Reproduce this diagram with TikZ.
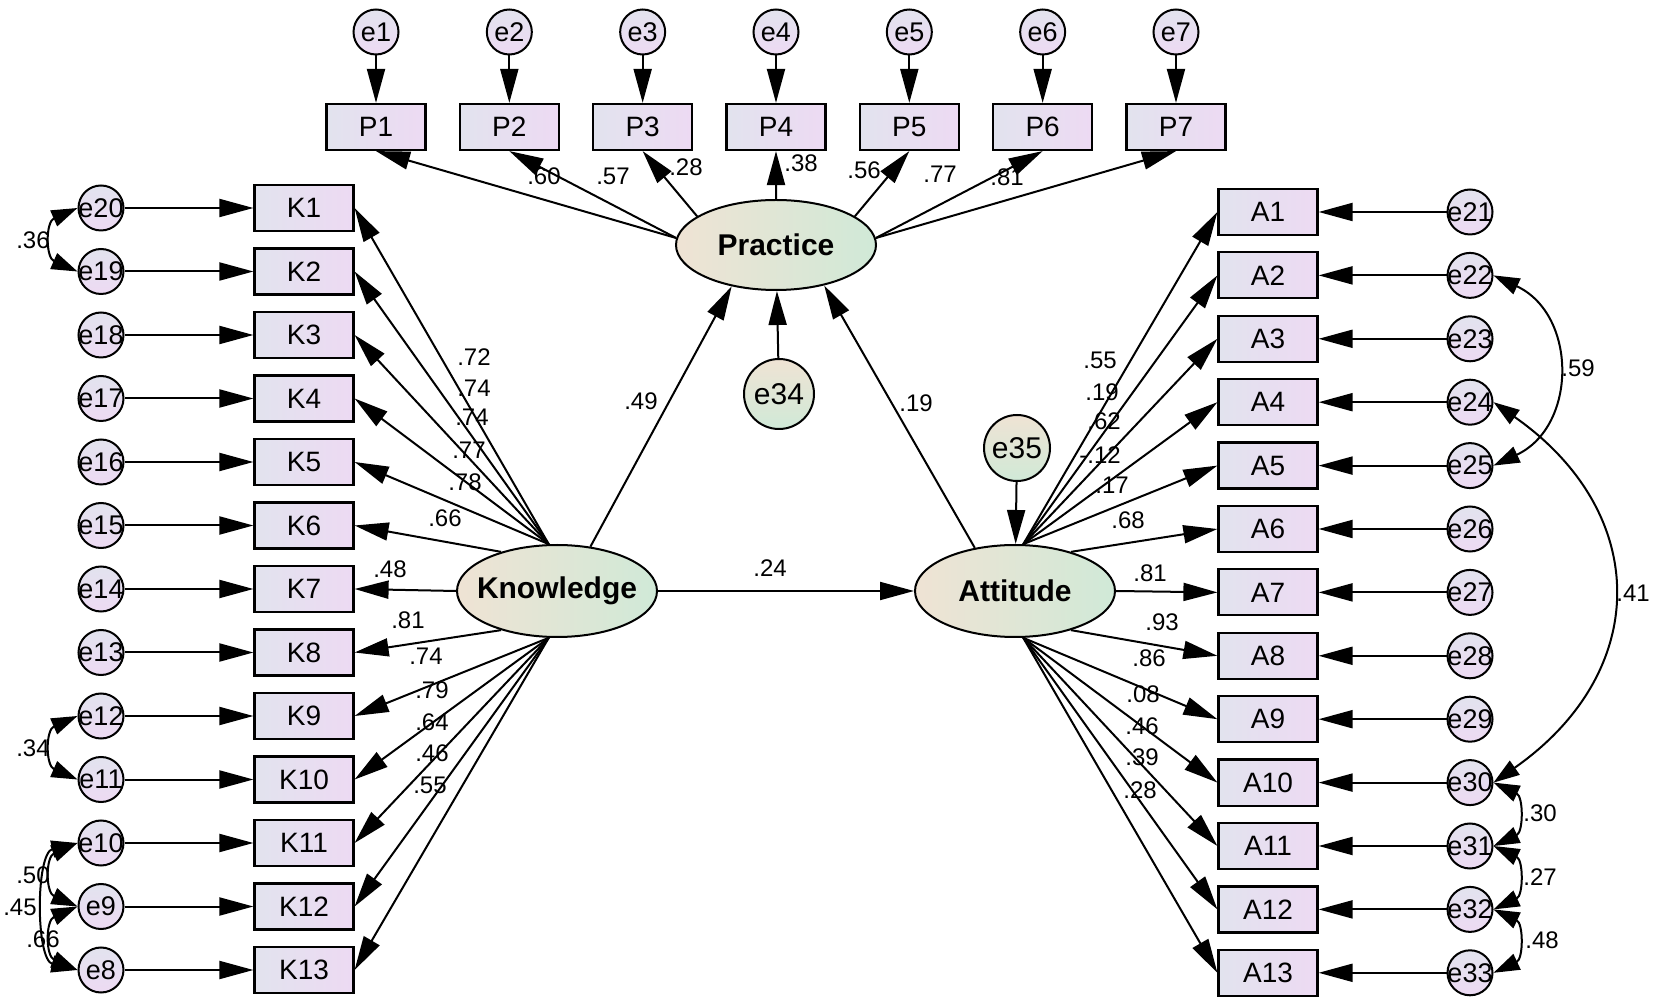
\documentclass[tikz,border=0pt]{standalone}
\usepackage{fontspec}
\setmainfont{Liberation Sans}
\usetikzlibrary{arrows.meta,shapes.geometric}

\definecolor{indl}{HTML}{E2E3EE}
\definecolor{indr}{HTML}{EDDAF3}
\definecolor{latl}{HTML}{EFE3D4}
\definecolor{latr}{HTML}{D0E9D7}

\tikzset{
  indicator/.style={draw,line width=1.1pt,left color=indl,right color=indr,
    minimum width=49.5pt,minimum height=23pt,inner sep=0pt,
    font=\fontsize{14}{14}\selectfont},
  errvar/.style={circle,draw,line width=1pt,top color=indl,bottom color=indr,
    minimum size=22.5pt,inner sep=-2pt,font=\fontsize{13.5}{14}\selectfont},
  latent/.style={ellipse,draw,line width=1pt,left color=latl,right color=latr,
    minimum width=100pt,minimum height=46pt,inner xsep=-12pt,inner ysep=0pt,
    font=\bfseries\fontsize{15}{15}\selectfont},
  resid/.style={circle,draw,line width=1pt,top color=latl,bottom color=latr,
    minimum size=35pt,inner sep=0pt,font=\fontsize{15}{15}\selectfont},
  regarrow/.style={line width=1pt,-{Triangle[length=17pt,width=9pt]}},
  covar/.style={line width=1pt,{Triangle[length=13pt,width=8.5pt]}-{Triangle[length=13pt,width=8.5pt]}},
  est/.style={inner sep=0pt,font=\fontsize{12}{12}\selectfont},
}

\begin{document}
\begin{tikzpicture}[x=0.5pt,y=0.5pt]
\useasboundingbox (0,0) rectangle (1654,-1004);

% latent variables and disturbances
\node[latent,minimum height=45pt] (Practice) at (776,-245) {Practice};
\node[latent] (Knowledge) at (557,-591) {Knowledge};
\node[latent] (Attitude) at (1015,-591) {Attitude};
\node[resid] (e34) at (779,-394) {e34};
\node[resid,minimum size=33pt] (e35) at (1017,-448) {e35};

% practice items
\foreach \i/\a/\lx/\ly/\v in {1/176/544/176/.60, 2/176/613/176/.57, 3/160/686/167/.28, 4/90/801/163/.38, 5/20/864/170/.56, 6/4/940/174/.77, 7/4/1007/177/.81} {
  \node[indicator] (P\i) at ({376+133.33*(\i-1)},-127) {P\i};
  \node[errvar] (e\i) at ({376+133.33*(\i-1)},-32) {e\i};
  \draw[regarrow] (e\i) -- (P\i);
  \draw[regarrow] (Practice.\a) -- (P\i.south);
  \node[est] at (\lx,-\ly) {\v};
}

% knowledge items
\foreach \i/\a/\lx/\ly/\v in {1/100/474/357/.72, 2/100/474/388/.74, 3/100/472/417/.74, 4/100/469/450/.77, 5/100/465/482/.78, 6/145/445/518/.66, 7/180/390/569/.48, 8/215/408/620/.81, 9/260/426/656/.74, 10/260/432/690/.79, 11/260/432/722/.64, 12/260/432/753/.46, 13/260/430/785/.55} {
  \pgfmathtruncatemacro\j{21-\i}
  \node[indicator] (K\i) at (304,{-208-63.5*(\i-1)}) {K\i};
  \node[errvar] (e\j) at (101,{-208-63.5*(\i-1)}) {e\j};
  \draw[regarrow] (e\j) -- (K\i);
  \draw[regarrow] (Knowledge.\a) -- (K\i.east);
  \node[est] at (\lx,-\ly) {\v};
}

% attitude items
\foreach \i/\a/\lx/\ly/\v in {1/80/1100/360/.55, 2/80/1102/392/.19, 3/80/1104/421/.62, 4/80/1100/455/-.12, 5/80/1112/485/.17, 6/35/1128/520/.68, 7/0/1150/573/.81, 8/325/1162/622/.93, 9/280/1149/658/.86, 10/280/1143/694/.08, 11/280/1142/726/.46, 12/280/1142/757/.39, 13/280/1140/790/.28} {
  \pgfmathtruncatemacro\j{20+\i}
  \node[indicator] (A\i) at (1268,{-212-63.4*(\i-1)}) {A\i};
  \node[errvar] (e\j) at (1470,{-212-63.4*(\i-1)}) {e\j};
  \draw[regarrow] (e\j) -- (A\i);
  \draw[regarrow] (Attitude.\a) -- (A\i.west);
  \node[est] at (\lx,-\ly) {\v};
}

% structural paths
\draw[regarrow] (Knowledge.53) -- (Practice.223);
\draw[regarrow] (Attitude.133) -- (Practice.320);
\draw[regarrow] (Knowledge) -- (Attitude);
\draw[regarrow] (e34) -- (Practice);
\draw[regarrow] (e35) -- (Attitude);
\node[est] at (641,-401) {.49};
\node[est] at (916,-403) {.19};
\node[est] at (770,-568) {.24};

% covariances
\draw[covar] (e20.west) .. controls +(-32,-14) and +(-32,14) .. (e19.west);
\draw[covar] (e12.west) .. controls +(-32,-14) and +(-32,14) .. (e11.west);
\draw[covar] (e10.west) .. controls +(-32,-14) and +(-32,14) .. (e9.west);
\draw[covar] (e9.west) .. controls +(-32,-14) and +(-32,14) .. (e8.west);
\draw[covar] (e10.west) .. controls +(-42,-10) and +(-42,10) .. (e8.west);
\draw[covar] (e22.east) to[out=-25,in=25,looseness=1.25] (e25.east);
\draw[covar] (e24.east) to[out=-35,in=35,looseness=1.3] (e30.east);
\draw[covar] (e30.east) .. controls +(30,-14) and +(30,14) .. (e31.east);
\draw[covar] (e31.east) .. controls +(30,-14) and +(30,14) .. (e32.east);
\draw[covar] (e32.east) .. controls +(30,-14) and +(30,14) .. (e33.east);
\node[est] at (33,-240) {.36};
\node[est] at (33,-748) {.34};
\node[est] at (33,-875) {.50};
\node[est] at (20,-907) {.45};
\node[est] at (43,-939) {.66};
\node[est] at (1578,-368) {.59};
\node[est] at (1633,-593) {.41};
\node[est] at (1540,-813) {.30};
\node[est] at (1540,-877) {.27};
\node[est] at (1542,-940) {.48};
\end{tikzpicture}
\end{document}
